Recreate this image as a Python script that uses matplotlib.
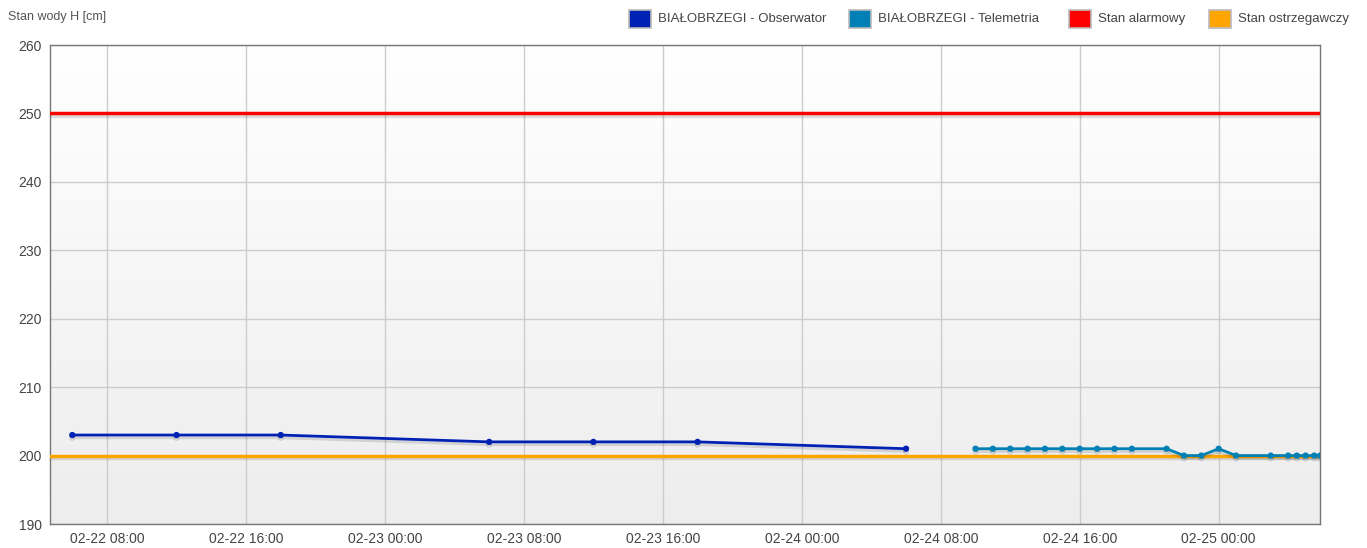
import numpy as np
import pandas as pd
import matplotlib
matplotlib.use('Agg')
import matplotlib.pyplot as plt
import matplotlib.dates as mdates
import matplotlib.patheffects as pe
from matplotlib.patches import Rectangle

plt.rcParams['font.family'] = ['Liberation Sans', 'DejaVu Sans']

# observer readings
obs_times = ['2023-02-22 06:00', '2023-02-22 12:00', '2023-02-22 18:00',
             '2023-02-23 06:00', '2023-02-23 12:00', '2023-02-23 18:00',
             '2023-02-24 06:00']
obs_values = [203, 203, 203, 202, 202, 202, 201]

# telemetry readings
tel_times = ['2023-02-24 10:00', '2023-02-24 11:00', '2023-02-24 12:00',
             '2023-02-24 13:00', '2023-02-24 14:00', '2023-02-24 15:00',
             '2023-02-24 16:00', '2023-02-24 17:00', '2023-02-24 18:00',
             '2023-02-24 19:00', '2023-02-24 21:00', '2023-02-24 22:00',
             '2023-02-24 23:00', '2023-02-25 00:00', '2023-02-25 01:00',
             '2023-02-25 03:00', '2023-02-25 04:00', '2023-02-25 04:30',
             '2023-02-25 05:00', '2023-02-25 05:30', '2023-02-25 05:50']
tel_values = [201, 201, 201, 201, 201, 201, 201, 201, 201, 201, 201,
              200, 200, 201, 200, 200, 200, 200, 200, 200, 200]

alarm_level = 250
warning_level = 200

x_start = pd.Timestamp('2023-02-22 04:43')
x_end = pd.Timestamp('2023-02-25 05:50')

obs_t = pd.to_datetime(obs_times)
tel_t = pd.to_datetime(tel_times)

c_obs = '#0022b4'
c_tel = '#0080b4'
c_alarm = '#ff0000'
c_warn = '#ffa500'

fig = plt.figure(figsize=(13.67, 5.48), dpi=100)
ax = fig.add_axes([50 / 1367, 24 / 548, 1270 / 1367, 479 / 548])

# background gradient white -> light grey
grad = np.linspace(1.0, 0.0, 256).reshape(-1, 1)
ax.imshow(grad, extent=[0, 1, 0, 1], transform=ax.transAxes, aspect='auto',
          cmap=matplotlib.colors.LinearSegmentedColormap.from_list('bg', ['#ededed', '#ffffff']),
          zorder=0, vmin=0, vmax=1)

shadow = [pe.SimpleLineShadow(offset=(0, -2), alpha=0.12, shadow_color='black'), pe.Normal()]

ax.axhline(alarm_level, color=c_alarm, lw=2.5, zorder=3, path_effects=shadow)
ax.axhline(warning_level, color=c_warn, lw=2.5, zorder=3, path_effects=shadow)

ax.plot(obs_t, obs_values, color=c_obs, lw=2, marker='o', ms=3.5, zorder=4, path_effects=shadow)
ax.plot(tel_t, tel_values, color=c_tel, lw=2, marker='o', ms=3.5, zorder=4, path_effects=shadow)

ax.set_xlim(x_start, x_end)
ax.set_ylim(190, 260)
ax.set_yticks(range(190, 261, 10))
ax.xaxis.set_major_locator(mdates.HourLocator(byhour=[0, 8, 16]))
ax.xaxis.set_major_formatter(mdates.DateFormatter('%m-%d %H:%M'))

ax.grid(True, color='#cccccc', lw=1, zorder=1)
ax.set_axisbelow(True)
ax.tick_params(length=0, labelsize=10, labelcolor='#444444', pad=6)
for s in ax.spines.values():
    s.set_color('#777777')
    s.set_linewidth(1)

fig.text(8 / 1367, 1 - 17 / 548, 'Stan wody H [cm]', fontsize=9, color='#555555', va='center')

# legend across the top
legend_items = [('BIAŁOBRZEGI - Obserwator', c_obs, 629),
                ('BIAŁOBRZEGI - Telemetria', c_tel, 849),
                ('Stan alarmowy', c_alarm, 1069),
                ('Stan ostrzegawczy', c_warn, 1209)]
for label, col, px in legend_items:
    fig.patches.append(Rectangle((px / 1367, 1 - 28 / 548), 22 / 1367, 18 / 548,
                                 transform=fig.transFigure, facecolor=col,
                                 edgecolor='#bbbbbb', lw=1.2))
    fig.text((px + 29) / 1367, 1 - 19 / 548, label, fontsize=9.5, color='#444444', va='center')

fig.savefig('out.png', dpi=100)
